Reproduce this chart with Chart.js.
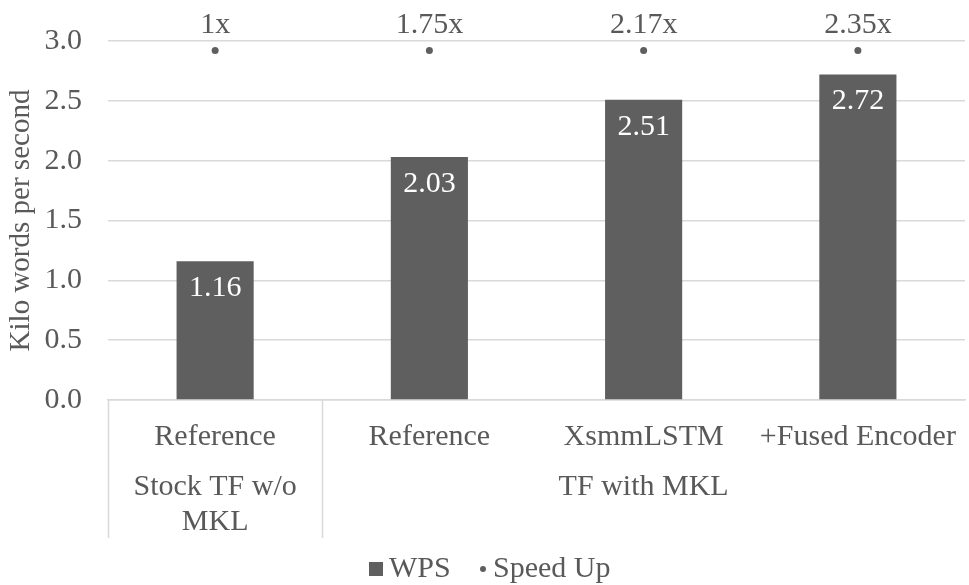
<!DOCTYPE html>
<html>
<head>
<meta charset="utf-8">
<script src="https://cdn.jsdelivr.net/npm/chart.js@4"></script>
<style>
  html, body { margin: 0; padding: 0; background: #fff; }
  #wrap { width: 969px; height: 585px; }
</style>
</head>
<body>
<div id="wrap"><canvas id="chart" width="969" height="585"></canvas></div>
<script>
const categories = ['Reference', 'Reference', 'XsmmLSTM', '+Fused Encoder'];
const groups = [
    { label: ['Stock TF w/o', 'MKL'], from: 0, to: 0 },
    { label: ['TF with MKL'], from: 1, to: 3 }
];
const wps = [1.16, 2.03, 2.51, 2.72];
const speedUpPos = [2.92, 2.92, 2.92, 2.92];
const speedUpLabels = ['1x', '1.75x', '2.17x', '2.35x'];
const yTicks = [0, 0.5, 1.0, 1.5, 2.0, 2.5, 3.0];

const FONT = "'Liberation Serif', 'Times New Roman', serif";
const TXT = '#595959';
const BAR = '#5f5f5f';

// value labels, multi-level category axis and legend
const labelPlugin = {
    id: 'labels',
    afterDatasetsDraw(chart) {
        const ctx = chart.ctx;
        const x = chart.scales.x;
        const area = chart.chartArea;
        ctx.save();
        ctx.font = '30px ' + FONT;
        ctx.textAlign = 'center';
        ctx.textBaseline = 'middle';

        chart.getDatasetMeta(0).data.forEach((bar, i) => {
            ctx.fillStyle = '#ffffff';
            ctx.fillText(wps[i].toFixed(2), bar.x, bar.y + 27);
        });
        chart.getDatasetMeta(1).data.forEach((pt, i) => {
            ctx.fillStyle = TXT;
            ctx.fillText(speedUpLabels[i], pt.x, pt.y - 25);
        });

        // category rows
        ctx.fillStyle = TXT;
        categories.forEach((c, i) => {
            ctx.fillText(c, x.getPixelForValue(i), area.bottom + 37);
        });
        groups.forEach(g => {
            const cx = (x.getPixelForValue(g.from) + x.getPixelForValue(g.to)) / 2;
            g.label.forEach((line, j) => {
                ctx.fillText(line, cx, area.bottom + 87 + j * 35);
            });
        });

        // separators
        ctx.strokeStyle = '#d9d9d9';
        ctx.lineWidth = 1.5;
        const step = x.getPixelForValue(1) - x.getPixelForValue(0);
        groups.forEach(g => {
            const sx = Math.round(x.getPixelForValue(g.from) - step / 2) + 0.5;
            ctx.beginPath();
            ctx.moveTo(sx, area.bottom);
            ctx.lineTo(sx, area.bottom + 138);
            ctx.stroke();
        });

        // legend
        const ly = 569;
        ctx.textAlign = 'left';
        ctx.fillStyle = BAR;
        ctx.fillRect(369, ly - 7, 14, 14);
        ctx.fillStyle = TXT;
        ctx.fillText(chart.data.datasets[0].label, 389, ly);
        ctx.fillStyle = BAR;
        ctx.beginPath();
        ctx.arc(483, ly, 3, 0, Math.PI * 2);
        ctx.fill();
        ctx.fillStyle = TXT;
        ctx.fillText(chart.data.datasets[1].label, 493, ly);
        ctx.restore();
    }
};

new Chart(document.getElementById('chart'), {
    type: 'bar',
    data: {
        labels: categories,
        datasets: [
            {
                label: 'WPS',
                data: wps,
                backgroundColor: BAR,
                borderWidth: 0,
                categoryPercentage: 1.0,
                barPercentage: 0.36,
                order: 2
            },
            {
                type: 'line',
                label: 'Speed Up',
                data: speedUpPos,
                showLine: false,
                pointRadius: 3.5,
                pointBackgroundColor: BAR,
                pointBorderWidth: 0,
                order: 1
            }
        ]
    },
    options: {
        responsive: false,
        animation: false,
        layout: { padding: { top: 41, right: 0, left: 0, bottom: 0 } },
        plugins: {
            legend: { display: false },
            tooltip: { enabled: false }
        },
        scales: {
            x: {
                grid: { display: false },
                border: { color: '#d9d9d9', width: 1.5 },
                ticks: { display: false },
                afterFit(scale) { scale.height = 185; }
            },
            y: {
                min: 0,
                max: 3,
                afterBuildTicks(scale) { scale.ticks = yTicks.map(v => ({ value: v })); },
                afterFit(scale) {
                    scale.width = 108;
                    scale.paddingTop = 0;
                    scale.paddingBottom = 0;
                },
                ticks: {
                    color: TXT,
                    font: { family: FONT, size: 30 },
                    padding: 26,
                    callback: v => v.toFixed(1)
                },
                grid: { color: '#d9d9d9', drawTicks: false, lineWidth: 1.5 },
                border: { display: false },
                title: {
                    display: true,
                    text: 'Kilo words per second',
                    color: TXT,
                    font: { family: FONT, size: 29 },
                    padding: { top: 4, bottom: 4 }
                }
            }
        }
    },
    plugins: [labelPlugin]
});
</script>
</body>
</html>
